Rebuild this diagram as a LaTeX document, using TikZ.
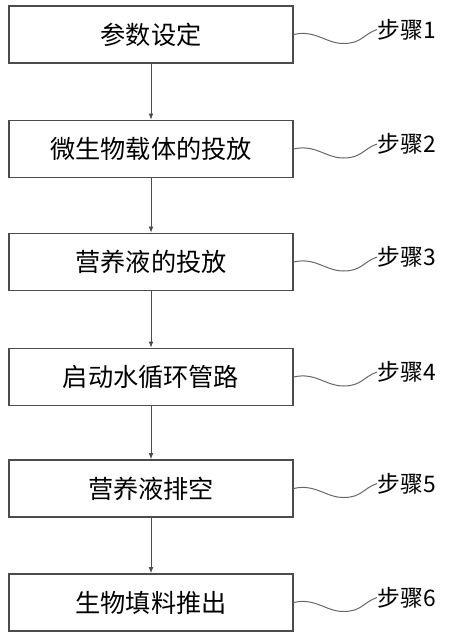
\documentclass[tikz,border=0pt]{standalone}
\usepackage{fontspec}
\setmainfont{Noto Sans CJK SC}
\usetikzlibrary{arrows.meta, calc}
\tikzset{
    stepbox/.style={draw=black!70, line width=0.55pt, minimum width=142pt, minimum height=28.5pt, inner sep=0pt, font=\fontsize{12.6}{14}\selectfont},
    steplbl/.style={anchor=west, inner sep=0pt, font=\fontsize{11.4}{13}\selectfont},
    steparrow/.style={-{Latex[length=3.2pt, width=2.4pt]}, draw=black!70, line width=0.5pt},
    stepwave/.style={draw=black!60, line width=0.5pt},
}

\begin{document}
\begin{tikzpicture}[x=0.5pt, y=-0.5pt]
    \useasboundingbox (0,0) rectangle (450,638);
    \foreach \i/\txt/\yy in {1/参数设定/34.5, 2/微生物载体的投放/149, 3/营养液的投放/262, 4/启动水循环管路/377, 5/营养液排空/488.5, 6/生物填料推出/602.5}{
        \node[stepbox] (s\i) at (151,\yy) {\txt};
        \node[steplbl] (l\i) at (377,\yy-5) {步骤\i};
        \draw[stepwave] (s\i.east) .. controls +(22,-5) and +(-18,0) .. ($(s\i.east)+(50,9)$) .. controls +(18,0) and +(-14,5) .. (l\i.west);
    }
    \foreach \a/\b in {1/2, 2/3, 3/4, 4/5, 5/6}
        \draw[steparrow] (s\a) -- (s\b);
\end{tikzpicture}
\end{document}
